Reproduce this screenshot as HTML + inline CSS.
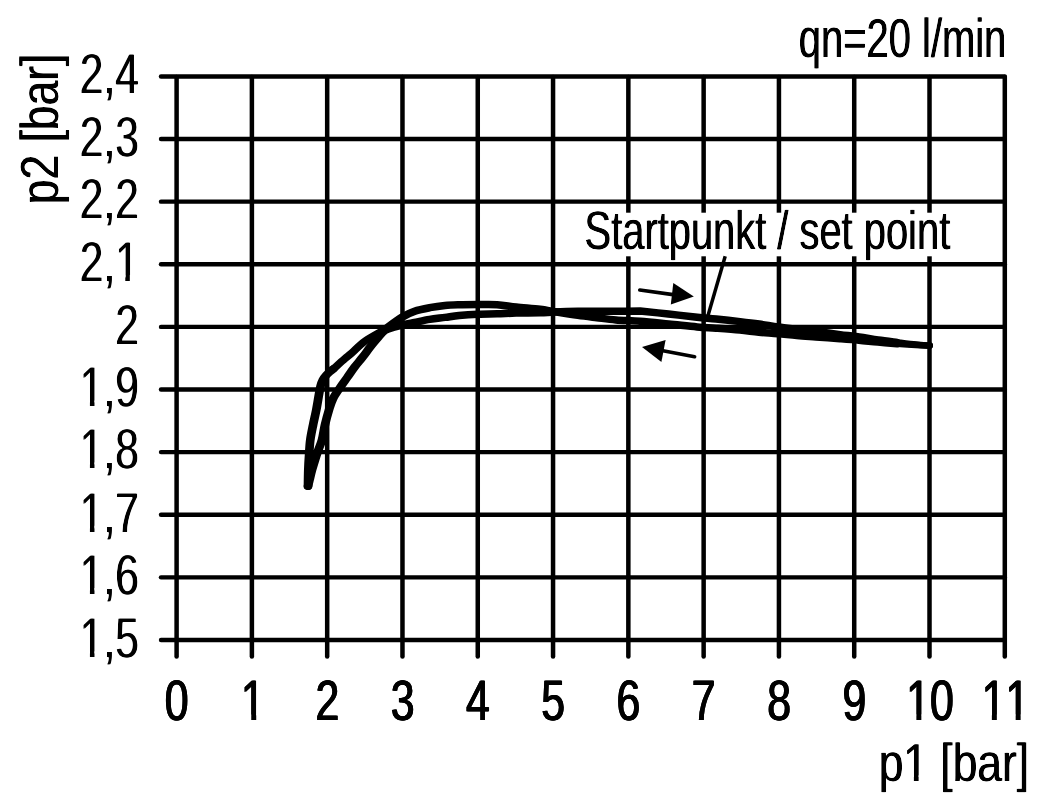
<!DOCTYPE html>
<html lang="de">
<head>
<meta charset="utf-8">
<title>qn=20 l/min</title>
<style>
html,body{margin:0;padding:0;background:#fff;}
body{width:1051px;height:803px;overflow:hidden;position:relative;}
svg{display:block;position:absolute;left:0;top:0;}
text{font-family:"Liberation Sans",sans-serif;fill:#000;text-rendering:geometricPrecision;font-kerning:none;white-space:pre;}
.g line{stroke:#000;stroke-linecap:round;}
.h line{stroke-width:4.4;}
.v line{stroke-width:4.5;}
.c{fill:none;stroke:#000;stroke-linecap:round;stroke-linejoin:round;}
.m{fill:#fff;}
</style>
</head>
<body>
<svg width="1051" height="803" viewBox="0 0 1051 803">
<defs>
<filter id="f0" filterUnits="userSpaceOnUse" x="0" y="0" width="1051" height="803" color-interpolation-filters="sRGB"><feOffset in="SourceGraphic" dx="0" dy="0.8" result="a"/><feComposite in="SourceGraphic" in2="a" operator="in" result="b"/><feOffset in="b" dx="0.6" dy="0" result="c"/><feMerge><feMergeNode in="b"/><feMergeNode in="c"/></feMerge></filter>
<filter id="f1" filterUnits="userSpaceOnUse" x="0" y="0" width="1051" height="803" color-interpolation-filters="sRGB"><feOffset in="SourceGraphic" dx="0" dy="-0.3" result="a"/><feMerge result="b"><feMergeNode in="SourceGraphic"/><feMergeNode in="a"/></feMerge><feOffset in="b" dx="1.0" dy="0" result="c"/><feMerge><feMergeNode in="b"/><feMergeNode in="c"/></feMerge></filter>
<filter id="f2" filterUnits="userSpaceOnUse" x="0" y="0" width="1051" height="803" color-interpolation-filters="sRGB"><feOffset in="SourceGraphic" dx="0" dy="0.2" result="a"/><feComposite in="SourceGraphic" in2="a" operator="in" result="b"/><feOffset in="b" dx="0.5" dy="0" result="c"/><feMerge><feMergeNode in="b"/><feMergeNode in="c"/></feMerge></filter>
<filter id="f3" filterUnits="userSpaceOnUse" x="0" y="0" width="1051" height="803" color-interpolation-filters="sRGB"><feOffset in="SourceGraphic" dx="0" dy="0.2" result="a"/><feComposite in="SourceGraphic" in2="a" operator="in" result="b"/><feOffset in="b" dx="0.6" dy="0" result="c"/><feMerge><feMergeNode in="b"/><feMergeNode in="c"/></feMerge></filter>
<filter id="f4" filterUnits="userSpaceOnUse" x="0" y="0" width="1051" height="803" color-interpolation-filters="sRGB"><feOffset in="SourceGraphic" dx="0" dy="0.3" result="a"/><feComposite in="SourceGraphic" in2="a" operator="in" result="b"/><feOffset in="b" dx="0.7" dy="0" result="c"/><feMerge><feMergeNode in="b"/><feMergeNode in="c"/></feMerge></filter>
<filter id="f5" filterUnits="userSpaceOnUse" x="0" y="0" width="1051" height="803" color-interpolation-filters="sRGB"><feOffset in="SourceGraphic" dx="0.2" dy="0" result="a"/><feComposite in="SourceGraphic" in2="a" operator="in" result="b"/><feOffset in="b" dx="0" dy="-0.6" result="c"/><feMerge><feMergeNode in="b"/><feMergeNode in="c"/></feMerge></filter>
</defs>
<rect x="0" y="0" width="1051" height="803" fill="#fff"/>

<g class="g h">
<line x1="161.00" y1="76.45" x2="1004.80" y2="76.45"/>
<line x1="161.00" y1="139.06" x2="1004.80" y2="139.06"/>
<line x1="161.00" y1="201.67" x2="1004.80" y2="201.67"/>
<line x1="161.00" y1="264.28" x2="1004.80" y2="264.28"/>
<line x1="161.00" y1="326.89" x2="1004.80" y2="326.89"/>
<line x1="161.00" y1="389.51" x2="1004.80" y2="389.51"/>
<line x1="161.00" y1="452.12" x2="1004.80" y2="452.12"/>
<line x1="161.00" y1="514.73" x2="1004.80" y2="514.73"/>
<line x1="161.00" y1="577.34" x2="1004.80" y2="577.34"/>
<line x1="161.00" y1="639.95" x2="1004.80" y2="639.95"/>
</g>
<g class="g v">
<line x1="176.60" y1="76.90" x2="176.60" y2="656.60"/>
<line x1="251.89" y1="76.90" x2="251.89" y2="656.60"/>
<line x1="327.18" y1="76.90" x2="327.18" y2="656.60"/>
<line x1="402.47" y1="76.90" x2="402.47" y2="656.60"/>
<line x1="477.76" y1="76.90" x2="477.76" y2="656.60"/>
<line x1="553.05" y1="76.90" x2="553.05" y2="656.60"/>
<line x1="628.35" y1="76.90" x2="628.35" y2="656.60"/>
<line x1="703.64" y1="76.90" x2="703.64" y2="656.60"/>
<line x1="778.93" y1="76.90" x2="778.93" y2="656.60"/>
<line x1="854.22" y1="76.90" x2="854.22" y2="656.60"/>
<line x1="929.51" y1="76.90" x2="929.51" y2="656.60"/>
<line x1="1004.80" y1="76.90" x2="1004.80" y2="656.60"/>
</g>
<path class="c" transform="scale(1.1600,1)" stroke-width="7.50" d="M265.52,486.30 C265.73,485.25 266.24,482.72 266.81,480.00 C267.39,477.28 268.18,473.33 268.97,470.00 C269.76,466.67 270.65,463.33 271.55,460.00 C272.46,456.67 273.39,453.37 274.40,450.00 C275.40,446.63 276.62,444.00 277.59,439.80 C278.55,435.60 279.17,429.78 280.17,424.80 C281.18,419.82 282.47,414.25 283.62,409.90 C284.77,405.55 285.50,402.38 287.07,398.70 C288.64,395.02 290.96,391.35 293.02,387.80 C295.07,384.25 297.27,380.88 299.40,377.40 C301.52,373.92 303.58,370.27 305.78,366.90 C307.97,363.53 310.32,360.57 312.59,357.20 C314.86,353.83 317.28,349.82 319.40,346.70 C321.51,343.58 323.20,341.20 325.26,338.50 C327.31,335.80 329.21,332.43 331.72,330.50 C334.24,328.57 337.79,327.83 340.34,326.90 C342.90,325.97 344.21,325.65 347.07,324.90 C349.93,324.15 353.61,323.32 357.50,322.40 C361.39,321.48 366.08,320.23 370.43,319.40 C374.78,318.57 379.41,318.05 383.62,317.40 C387.83,316.75 390.95,316.03 395.69,315.50 C400.43,314.97 406.59,314.48 412.07,314.20 C417.54,313.92 423.06,313.98 428.53,313.80 C434.01,313.62 438.75,313.27 444.91,313.10 C451.08,312.93 460.03,312.98 465.52,312.80 C471.01,312.62 472.39,312.25 477.84,312.00 C483.30,311.75 492.14,311.43 498.28,311.30 C504.41,311.17 509.20,311.22 514.66,311.20 C520.11,311.18 524.86,311.23 531.03,311.20 C537.21,311.17 548.28,311.03 551.72,311.00 C555.82,311.50 568.09,312.97 576.29,314.00 C584.50,315.03 594.11,316.37 600.95,317.20 C607.79,318.03 611.16,318.27 617.33,319.00 C623.49,319.73 631.77,320.77 637.93,321.60 C644.09,322.43 648.85,323.10 654.31,324.00 C659.77,324.90 665.23,326.12 670.69,327.00 C676.15,327.88 681.61,328.55 687.07,329.30 C692.53,330.05 697.27,330.62 703.45,331.50 C709.63,332.38 717.96,333.68 724.14,334.60 C730.32,335.52 735.06,336.10 740.52,337.00 C745.98,337.90 751.44,339.10 756.90,340.00 C762.36,340.90 770.55,342.00 773.28,342.40"/>
<path class="c" transform="scale(1.1600,1)" stroke-width="7.50" d="M265.52,486.30 C265.56,483.58 265.62,475.22 265.78,470.00 C265.93,464.78 266.18,460.03 266.47,455.00 C266.75,449.97 266.93,444.83 267.50,439.80 C268.07,434.77 269.05,429.78 269.91,424.80 C270.78,419.82 271.84,414.88 272.67,409.90 C273.51,404.92 274.30,398.88 274.91,394.90 C275.53,390.92 275.82,388.48 276.38,386.00 C276.94,383.52 277.47,381.78 278.28,380.00 C279.08,378.22 280.13,376.73 281.21,375.30 C282.28,373.87 283.68,372.50 284.74,371.40 C285.80,370.30 287.11,369.15 287.59,368.70"/>
<path class="c" transform="scale(1.1549,1)" stroke-width="7.10" d="M288.85,368.70 C290.47,367.05 295.85,361.50 298.55,358.80 C301.24,356.10 302.14,355.43 305.04,352.50 C307.94,349.57 311.26,345.03 315.95,341.20 C320.64,337.37 330.31,331.45 333.18,329.50"/>
<path class="c" transform="scale(1.1600,1)" stroke-width="7.50" d="M331.72,329.50 C334.28,327.40 342.77,319.95 347.07,316.90 C351.36,313.85 353.61,312.73 357.50,311.20 C361.39,309.67 366.08,308.65 370.43,307.70 C374.78,306.75 379.41,305.98 383.62,305.50 C387.83,305.02 390.95,304.95 395.69,304.80 C400.43,304.65 406.59,304.62 412.07,304.60 C417.54,304.58 423.06,304.30 428.53,304.70 C434.01,305.10 438.75,306.25 444.91,307.00 C451.08,307.75 460.03,308.43 465.52,309.20 C471.01,309.97 472.39,310.58 477.84,311.60 C483.30,312.62 492.14,314.28 498.28,315.30 C504.41,316.32 509.20,316.93 514.66,317.70 C520.11,318.47 524.86,319.30 531.03,319.90 C537.21,320.50 544.18,320.62 551.72,321.30 C559.27,321.98 568.09,323.07 576.29,324.00 C584.50,324.93 594.11,326.20 600.95,326.90 C607.79,327.60 611.16,327.67 617.33,328.20 C623.49,328.73 631.77,329.43 637.93,330.10 C644.09,330.77 648.85,331.60 654.31,332.20 C659.77,332.80 665.23,333.13 670.69,333.70 C676.15,334.27 681.61,335.05 687.07,335.60 C692.53,336.15 697.27,336.48 703.45,337.00 C709.63,337.52 717.96,338.17 724.14,338.70 C730.32,339.23 735.06,339.63 740.52,340.20 C745.98,340.77 751.44,341.52 756.90,342.10 C762.36,342.68 770.55,343.43 773.28,343.70"/>
<path class="c" transform="scale(1.1692,1)" stroke-width="6.50" d="M767.17,342.40 C769.88,342.77 778.82,344.07 783.42,344.60 C788.03,345.13 792.90,345.43 794.80,345.60"/>
<path class="c" transform="scale(1.1692,1)" stroke-width="6.50" d="M767.17,343.70 C769.88,343.92 778.82,344.68 783.42,345.00 C788.03,345.32 792.90,345.50 794.80,345.60"/>
<rect x="584" y="212.7" width="368" height="43.6" fill="#fff"/>
<line x1="725.2" y1="256.3" x2="707.8" y2="316.2" stroke="#000" stroke-width="3.5"/>
<line x1="639.8" y1="290.0" x2="673" y2="294.6" stroke="#000" stroke-width="3.7" stroke-linecap="round"/>
<polygon points="693.8,296.4 673.3,283 670.8,304.6" fill="#000"/>
<line x1="694.6" y1="356.7" x2="663" y2="350.8" stroke="#000" stroke-width="3.7" stroke-linecap="round"/>
<polygon points="642,347 665.6,339.9 661.4,361.9" fill="#000"/>
<g filter="url(#f0)"><text transform="translate(79.37,93.00) scale(0.7437,1)" style="font-size:57.00px">2,4</text></g>
<g filter="url(#f0)"><text transform="translate(79.37,156.46) scale(0.7437,1)" style="font-size:57.00px">2,3</text></g>
<g filter="url(#f0)"><text transform="translate(79.37,218.07) scale(0.7437,1)" style="font-size:57.00px">2,2</text></g>
<g filter="url(#f0)"><text transform="translate(79.37,280.68) scale(0.7437,1)" style="font-size:57.00px">2,1</text></g>
<rect class="m" transform="translate(79.37,280.68) scale(0.7437,1)" x="49.19" y="-5.76" width="12.55" height="7.76"/>
<rect class="m" transform="translate(79.37,280.68) scale(0.7437,1)" x="67.85" y="-5.76" width="12.10" height="7.76"/>
<g filter="url(#f0)"><text transform="translate(114.72,344.29) scale(0.7437,1)" style="font-size:57.00px">2</text></g>
<g filter="url(#f0)"><text transform="translate(79.37,406.31) scale(0.7437,1)" style="font-size:57.00px">1,9</text></g>
<rect class="m" transform="translate(79.37,406.31) scale(0.7437,1)" x="1.65" y="-5.76" width="12.55" height="7.76"/>
<rect class="m" transform="translate(79.37,406.31) scale(0.7437,1)" x="20.31" y="-5.76" width="12.10" height="7.76"/>
<g filter="url(#f0)"><text transform="translate(79.37,468.22) scale(0.7437,1)" style="font-size:57.00px">1,8</text></g>
<rect class="m" transform="translate(79.37,468.22) scale(0.7437,1)" x="1.65" y="-5.76" width="12.55" height="7.76"/>
<rect class="m" transform="translate(79.37,468.22) scale(0.7437,1)" x="20.31" y="-5.76" width="12.10" height="7.76"/>
<g filter="url(#f0)"><text transform="translate(79.37,531.53) scale(0.7437,1)" style="font-size:57.00px">1,7</text></g>
<rect class="m" transform="translate(79.37,531.53) scale(0.7437,1)" x="1.65" y="-5.76" width="12.55" height="7.76"/>
<rect class="m" transform="translate(79.37,531.53) scale(0.7437,1)" x="20.31" y="-5.76" width="12.10" height="7.76"/>
<g filter="url(#f0)"><text transform="translate(79.37,593.74) scale(0.7437,1)" style="font-size:57.00px">1,6</text></g>
<rect class="m" transform="translate(79.37,593.74) scale(0.7437,1)" x="1.65" y="-5.76" width="12.55" height="7.76"/>
<rect class="m" transform="translate(79.37,593.74) scale(0.7437,1)" x="20.31" y="-5.76" width="12.10" height="7.76"/>
<g filter="url(#f0)"><text transform="translate(79.37,657.15) scale(0.7437,1)" style="font-size:57.00px">1,5</text></g>
<rect class="m" transform="translate(79.37,657.15) scale(0.7437,1)" x="1.65" y="-5.76" width="12.55" height="7.76"/>
<rect class="m" transform="translate(79.37,657.15) scale(0.7437,1)" x="20.31" y="-5.76" width="12.10" height="7.76"/>
<g filter="url(#f1)"><text transform="translate(164.30,720.30) scale(0.7520,1)" style="font-size:56.90px">0</text></g>
<g filter="url(#f1)"><text transform="translate(240.59,720.30) scale(0.7520,1)" style="font-size:56.90px">1</text></g>
<rect class="m" transform="translate(240.59,720.30) scale(0.7520,1)" x="1.67" y="-5.75" width="12.50" height="7.75"/>
<rect class="m" transform="translate(240.59,720.30) scale(0.7520,1)" x="20.80" y="-5.75" width="12.06" height="7.75"/>
<g filter="url(#f1)"><text transform="translate(314.88,720.30) scale(0.7520,1)" style="font-size:56.90px">2</text></g>
<g filter="url(#f1)"><text transform="translate(390.17,720.30) scale(0.7520,1)" style="font-size:56.90px">3</text></g>
<g filter="url(#f1)"><text transform="translate(465.47,720.30) scale(0.7520,1)" style="font-size:56.90px">4</text></g>
<g filter="url(#f1)"><text transform="translate(540.76,720.30) scale(0.7520,1)" style="font-size:56.90px">5</text></g>
<g filter="url(#f1)"><text transform="translate(616.05,720.30) scale(0.7520,1)" style="font-size:56.90px">6</text></g>
<g filter="url(#f1)"><text transform="translate(691.34,720.30) scale(0.7520,1)" style="font-size:56.90px">7</text></g>
<g filter="url(#f1)"><text transform="translate(766.63,720.30) scale(0.7520,1)" style="font-size:56.90px">8</text></g>
<g filter="url(#f1)"><text transform="translate(841.92,720.30) scale(0.7520,1)" style="font-size:56.90px">9</text></g>
<g filter="url(#f1)"><text transform="translate(905.71,720.30) scale(0.7520,1)" style="font-size:56.90px">10</text></g>
<rect class="m" transform="translate(905.71,720.30) scale(0.7520,1)" x="1.67" y="-5.75" width="12.50" height="7.75"/>
<rect class="m" transform="translate(905.71,720.30) scale(0.7520,1)" x="20.80" y="-5.75" width="12.06" height="7.75"/>
<g filter="url(#f1)"><text transform="translate(981.20,720.30) scale(0.7520,1)" style="font-size:56.90px">11</text></g>
<rect class="m" transform="translate(981.20,720.30) scale(0.7520,1)" x="1.67" y="-5.75" width="12.50" height="7.75"/>
<rect class="m" transform="translate(981.20,720.30) scale(0.7520,1)" x="20.80" y="-5.75" width="12.06" height="7.75"/>
<rect class="m" transform="translate(981.20,720.30) scale(0.7520,1)" x="33.32" y="-5.75" width="12.50" height="7.75"/>
<rect class="m" transform="translate(981.20,720.30) scale(0.7520,1)" x="52.44" y="-5.75" width="12.06" height="7.75"/>
<g filter="url(#f2)"><text transform="translate(798.37,56.90) scale(0.7269,1)" style="font-size:54.90px">qn=20 l/min</text></g>
<g filter="url(#f3)"><text transform="translate(878.14,780.80) scale(0.8281,1)" style="font-size:53.60px">p1 [bar]</text></g>
<rect class="m" transform="translate(878.14,780.80) scale(0.8281,1)" x="31.48" y="-5.50" width="11.69" height="7.50"/>
<rect class="m" transform="translate(878.14,780.80) scale(0.8281,1)" x="48.87" y="-5.50" width="11.27" height="7.50"/>
<g filter="url(#f4)"><text transform="translate(584.04,248.70) scale(0.7358,1)" style="font-size:54.20px">Startpunkt / set point</text></g>
<g filter="url(#f5)"><text transform="translate(57.80,204.76) rotate(-90) scale(0.8281,1)" style="font-size:53.60px">p2 [bar]</text></g>
</svg>
</body>
</html>
